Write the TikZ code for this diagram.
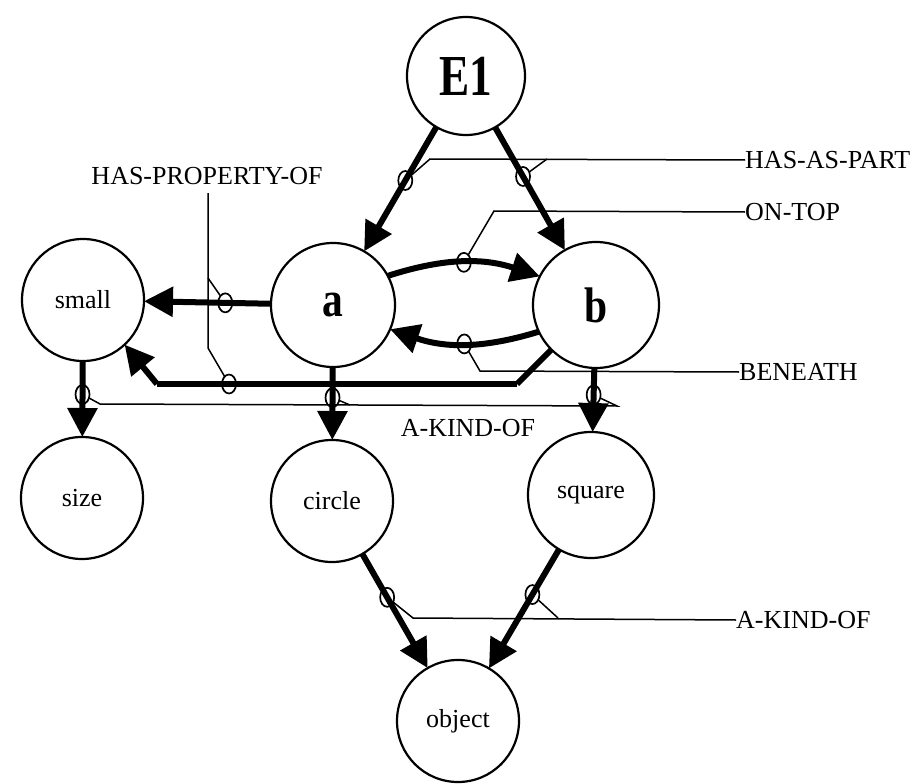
\documentclass[tikz,border=0pt]{standalone}
\usepackage{fontspec}
\setmainfont{Liberation Serif}
\usepackage{graphicx}
\usetikzlibrary{arrows.meta,shapes.geometric}
\begin{document}
\begin{tikzpicture}[x=1pt,y=-1pt,
  concept/.style={circle,draw,line width=2.2pt,minimum size=#1,inner sep=0pt,outer sep=0pt},
  rel/.style={line width=6pt,-{Triangle[length=29pt,width=29pt]}},
  relplain/.style={line width=6pt},
  oval/.style={ellipse,draw,line width=1.7pt,minimum width=14pt,minimum height=19pt,inner sep=0pt,outer sep=0pt},
  lead/.style={line width=1.5pt},
  lbl/.style={font=\fontsize{26}{30}\selectfont,inner sep=0pt},
  word/.style={font=\fontsize{26}{30}\selectfont},
  bigword/.style={font=\fontsize{50}{52}\selectfont\bfseries}
]
\useasboundingbox (0,0) rectangle (922,784);

% concept nodes
\node[concept=118pt,font=\fontsize{58}{60}\selectfont\bfseries] (E1) at (466,76) {\scalebox{0.78}[1]{E1}};
\node[concept=124pt,bigword] (a) at (333,305) {\scalebox{0.83}[1]{a}};
\node[concept=126pt,bigword] (b) at (596,305) {\scalebox{0.83}[1]{b}};
\node[concept=122pt,word] (small) at (83,300) {small};
\node[concept=122pt,word] (size) at (82,498) {size};
\node[concept=122pt,word] (circle) at (332,501) {circle};
\node[concept=126pt,word] (square) at (591,495) {square};
\node[concept=122pt,word] (object) at (458,721) {object};

% relation labels
\node[lbl,anchor=west] (hap) at (745,160) {HAS-AS-PART};
\node[lbl,anchor=west] (ont) at (745,212) {ON-TOP};
\node[lbl,anchor=west] (ben) at (739,372) {BENEATH};
\node[lbl] (hpo) at (207,176) {HAS-PROPERTY-OF};
\node[lbl] (akm) at (468,428) {A-KIND-OF};
\node[lbl,anchor=west] (akb) at (736,620) {A-KIND-OF};

% bend points
\coordinate (bs1) at (517,384);
\coordinate (bs2) at (157,384);
\coordinate (hv0) at (208,193);
\coordinate (hv1) at (208,278);
\coordinate (hv2) at (208,348);

% relation arcs with their link ovals
\draw[rel] (E1) -- node[oval,pos=0.43] (o1) {} (a);
\draw[rel] (E1) -- node[oval,pos=0.40] (o2) {} (b);
\draw[rel] (a.28) to[bend left=18] node[oval,pos=0.5] (o3) {} (b.153);
\draw[rel] (b.205) to[bend left=18] node[oval,pos=0.5] (o4) {} (a.-23);
\draw[rel] (a) -- node[oval,pos=0.36] (o5) {} (small);
\draw[relplain] (b.225) -- (bs1);
\draw[relplain] (bs1) -- node[oval,pos=0.8] (o6) {} (bs2);
\draw[rel] (bs2) -- (small.-47);
\draw[rel] (small) -- node[oval,pos=0.44] (o7) {} (size);
\draw[rel] (a) -- node[oval,pos=0.42] (o8) {} (circle);
\draw[rel] (b) -- node[oval,pos=0.42] (o9) {} (square);
\draw[rel] (circle) -- node[oval,pos=0.38] (o10) {} (object);
\draw[rel] (square) -- node[oval,pos=0.38] (o11) {} (object);

% leader lines
\draw[lead] (o1) -- (430,159) -- (hap.west);
\draw[lead] (o2) -- (547,159);
\draw[lead] (o3) -- (494,211) -- (ont.west);
\draw[lead] (o4) -- (480,371) -- (ben.west);
\draw[lead] (hv0) -- (hv2) -- (o6);
\draw[lead] (hv1) -- (o5);
\draw[lead] (o7) -- (100,404) -- (617,406) -- (o9);
\draw[lead] (o8) -- (350,405);
\draw[lead] (o10) -- (413,618) -- (akb.west);
\draw[lead] (o11) -- (558,618);
\end{tikzpicture}
\end{document}
